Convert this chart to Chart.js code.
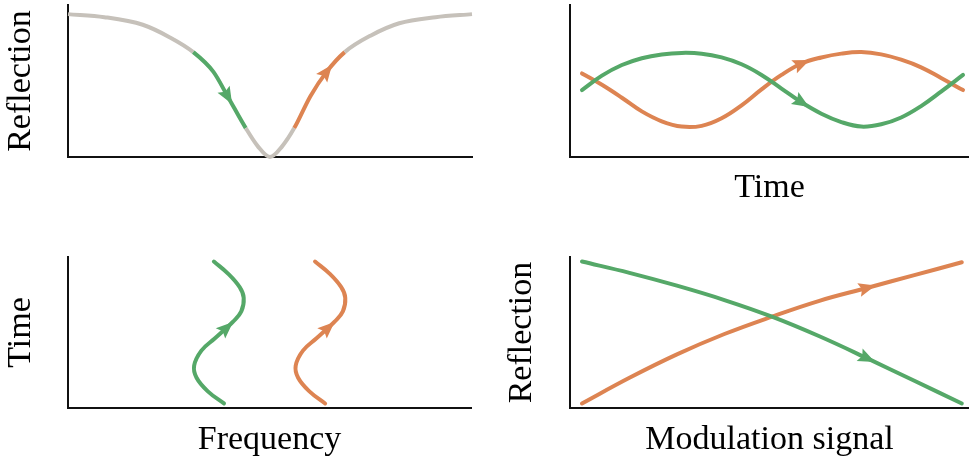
<!DOCTYPE html>
<html>
<head>
<meta charset="utf-8">
<script src="https://cdn.jsdelivr.net/npm/chart.js@4"></script>
<style>
  body { margin: 0; background: #fff; }
  #wrap { position: relative; width: 969px; height: 461px; }
  canvas { position: absolute; }
</style>
</head>
<body>
<div id="wrap">
  <canvas id="dip" width="484" height="230" style="left:0;top:0"></canvas>
  <canvas id="reflTime" width="485" height="230" style="left:484px;top:0"></canvas>
  <canvas id="track" width="484" height="231" style="left:0;top:230px"></canvas>
  <canvas id="reflMod" width="485" height="231" style="left:484px;top:230px"></canvas>
</div>
<script>
const GREEN = '#55a868';
const ORANGE = '#dd8452';
const GREY = '#c6c1ba';

// resonance dip: reflection vs frequency
const dipFreq = [0, 0.9, 1.85, 2.5, 3.1, 3.6, 3.95, 4.4, 4.7, 5.0, 5.3, 5.6, 6.0, 6.4, 6.85, 7.5, 8.2, 9.1, 10];
const dipRefl = [0.94, 0.92, 0.87, 0.79, 0.69, 0.56, 0.40, 0.19, 0.07, 0, 0.07, 0.19, 0.40, 0.56, 0.69, 0.80, 0.88, 0.92, 0.94];
const greenSpan = [4, 7];
const orangeSpan = [11, 14];

// reflection vs time
const time = [0.3, 0.8, 1.3, 1.8, 2.3, 2.8, 3.3, 3.8, 4.3, 4.8, 5.3, 5.8, 6.3, 6.8, 7.3, 7.8, 8.3, 8.8, 9.3, 9.85];
const greenReflTime = [0.44, 0.535, 0.605, 0.65, 0.675, 0.685, 0.68, 0.655, 0.61, 0.54, 0.45, 0.36, 0.285, 0.23, 0.20, 0.215, 0.26, 0.335, 0.43, 0.54];
const orangeReflTime = [0.55, 0.475, 0.39, 0.30, 0.235, 0.20, 0.205, 0.255, 0.34, 0.445, 0.54, 0.615, 0.655, 0.68, 0.69, 0.675, 0.64, 0.59, 0.52, 0.44];

// frequency tracks over time
const trackTime = [0.03, 0.11, 0.20, 0.28, 0.38, 0.46, 0.53, 0.57, 0.64, 0.73, 0.80, 0.89, 0.97];
const greenTrackFreq = [3.87, 3.47, 3.19, 3.13, 3.31, 3.64, 3.93, 4.09, 4.30, 4.36, 4.26, 3.97, 3.62];
const orangeTrackFreq = [6.38, 5.99, 5.71, 5.65, 5.83, 6.16, 6.45, 6.61, 6.82, 6.88, 6.78, 6.49, 6.13];

// reflection vs modulation signal
const modSignal = [0.3, 1.49, 2.68, 3.87, 5.06, 6.25, 7.44, 8.63, 9.82];
const greenReflMod = [0.97, 0.895, 0.81, 0.715, 0.605, 0.475, 0.33, 0.18, 0.03];
const orangeReflMod = [0.03, 0.20, 0.355, 0.49, 0.605, 0.71, 0.795, 0.88, 0.965];

function zip(xs, ys) {
    return xs.map((x, i) => ({ x: x, y: ys[i] }));
}

// arrow heads drawn along the curve tangent at chosen points
const arrowHeads = {
    id: 'arrowHeads',
    afterDatasetsDraw(chart) {
        const ctx = chart.ctx;
        chart.data.datasets.forEach((ds, i) => {
            if (!ds.arrows) return;
            const pts = chart.getDatasetMeta(i).data;
            ds.arrows.forEach(a => {
                const p = pts[a.at];
                const ang = Math.atan2(p.cp2y - p.cp1y, p.cp2x - p.cp1x);
                ctx.save();
                ctx.translate(p.x, p.y);
                ctx.rotate(ang);
                ctx.beginPath();
                ctx.moveTo(9, 0);
                ctx.lineTo(-8, -7);
                ctx.lineTo(-5, 0);
                ctx.lineTo(-8, 7);
                ctx.closePath();
                ctx.fillStyle = a.color;
                ctx.fill();
                ctx.restore();
            });
        });
    }
};

function curve(points, color, arrows, monotone) {
    return {
        data: points,
        showLine: true,
        borderColor: color,
        borderWidth: 4,
        borderCapStyle: 'round',
        borderJoinStyle: 'round',
        pointRadius: 0,
        tension: 0.4,
        cubicInterpolationMode: monotone ? 'monotone' : 'default',
        clip: false,
        arrows: arrows
    };
}

function axis(text, pad, max) {
    return {
        type: 'linear',
        min: 0,
        max: max,
        grid: { display: false, drawTicks: false },
        border: { display: true, color: '#111', width: 2 },
        ticks: { display: false },
        title: {
            display: !!text,
            text: text || '',
            color: '#000',
            font: { family: 'Liberation Serif', size: 34, lineHeight: 1 },
            padding: pad || 0
        }
    };
}

function panel(id, datasets, xTitle, xPad, yTitle, yPad, layoutPad) {
    return new Chart(document.getElementById(id), {
        type: 'scatter',
        data: { datasets: datasets },
        options: {
            responsive: false,
            animation: false,
            layout: { padding: layoutPad },
            plugins: { legend: { display: false }, tooltip: { enabled: false } },
            scales: { x: axis(xTitle, xPad, 10), y: axis(yTitle, yPad, 1) }
        },
        plugins: [arrowHeads]
    });
}

// top left: dip with highlighted flanks
const dipSet = curve(zip(dipFreq, dipRefl), GREY, [
    { at: 6, color: GREEN },
    { at: 13, color: ORANGE }
], true);
dipSet.borderCapStyle = 'butt';
dipSet.segment = {
    borderColor: c => {
        const i = c.p0DataIndex;
        if (i >= greenSpan[0] && i < greenSpan[1]) return GREEN;
        if (i >= orangeSpan[0] && i < orangeSpan[1]) return ORANGE;
        return GREY;
    }
};
panel('dip', [dipSet], null, 0, 'Reflection', { top: 4, bottom: 30 },
    { left: 0, top: 5, right: 12, bottom: 73 });

// top right
panel('reflTime', [
    curve(zip(time, greenReflTime), GREEN, [{ at: 11, color: GREEN }], false),
    curve(zip(time, orangeReflTime), ORANGE, [{ at: 11, color: ORANGE }], false)
], 'Time', { top: 14, bottom: 0 }, null, 0,
    { left: 86, top: 5, right: 0, bottom: 25 });

// bottom left
panel('track', [
    curve(zip(greenTrackFreq, trackTime), GREEN, [{ at: 6, color: GREEN }], false),
    curve(zip(orangeTrackFreq, trackTime), ORANGE, [{ at: 6, color: ORANGE }], false)
], 'Frequency', { top: 15, bottom: 0 }, 'Time', { top: 4, bottom: 30 },
    { left: 0, top: 27, right: 13, bottom: 4 });

// bottom right
panel('reflMod', [
    curve(zip(modSignal, greenReflMod), GREEN, [{ at: 6, color: GREEN }], false),
    curve(zip(modSignal, orangeReflMod), ORANGE, [{ at: 6, color: ORANGE }], false)
], 'Modulation signal', { top: 15, bottom: 0 }, 'Reflection', { top: 21, bottom: 31 },
    { left: 0, top: 27, right: 0, bottom: 4 });
</script>
</body>
</html>
